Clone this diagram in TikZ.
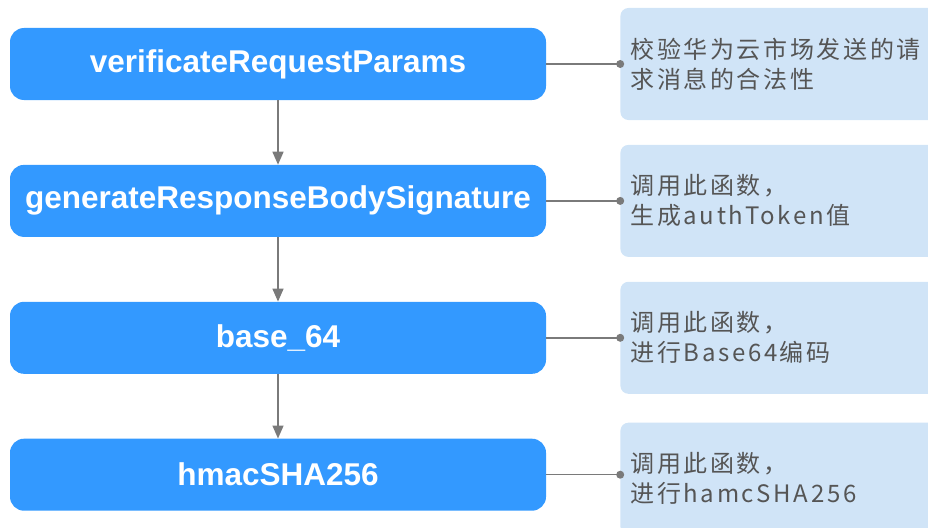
\documentclass[tikz,border=0pt]{standalone}
\usepackage{fontspec}
\usepackage{tikz}
\usetikzlibrary{positioning, arrows.meta}
\setmainfont{Liberation Sans}
\newfontfamily\cjkfont{Noto Sans CJK SC}[LetterSpace=11]
\definecolor{fnblue}{HTML}{3399FF}
\definecolor{noteblue}{HTML}{D0E4F7}
\definecolor{linegray}{HTML}{7A7A7A}
\definecolor{notetext}{HTML}{555555}
\tikzstyle{fn} = [
  rectangle, rounded corners = 14,
  minimum width = 536, minimum height = 72,
  fill = fnblue, text = white, text centered,
  font = \fontsize{31.5}{34}\selectfont\bfseries
]
\tikzstyle{note} = [
  rectangle, rounded corners = 8,
  text width = 310, inner xsep = 10, minimum height = 112,
  fill = noteblue, text = notetext, align = left,
  font = \cjkfont\fontsize{24}{30}\selectfont
]
\tikzstyle{flow} = [draw = linegray, line width = 1.5,
  -{Triangle[length = 13, width = 11]}]
\tikzstyle{link} = [draw = linegray, line width = 1.5]

\begin{document}
\begin{tikzpicture}
      \useasboundingbox (0pt, 0pt) rectangle (928pt, -527pt);
      % functions
      \node [fn] (fn-0) at (278pt, -64pt) {verificateRequestParams};
      \node [fn, below = 64.5pt of fn-0] (fn-1) {generateResponseBodySignature};
      \node [fn, below = 64.5pt of fn-1] (fn-2) {base\_64};
      \node [fn, below = 64.5pt of fn-2] (fn-3) {hmacSHA256};
      % notes
      \node [note, right = 74pt of fn-0] (note-0) {校验华为云市场发送的请\\求消息的合法性};
      \node [note, right = 74pt of fn-1] (note-1) {调用此函数，\\生成authToken值};
      \node [note, right = 74pt of fn-2] (note-2) {调用此函数，\\进行Base64编码};
      \node [note, right = 74pt of fn-3, yshift = -4pt] (note-3) {调用此函数，\\进行hamcSHA256};

      \draw [flow] (fn-0) -- (fn-1);
      \draw [flow] (fn-1) -- (fn-2);
      \draw [flow] (fn-2) -- (fn-3);
      \foreach \i in {0, ..., 3} {
        \draw [link] (fn-\i.east) -- (fn-\i.east -| note-\i.west);
        \fill [linegray] (fn-\i.east -| note-\i.west) circle (4pt);
      }
    \end{tikzpicture}
\end{document}
